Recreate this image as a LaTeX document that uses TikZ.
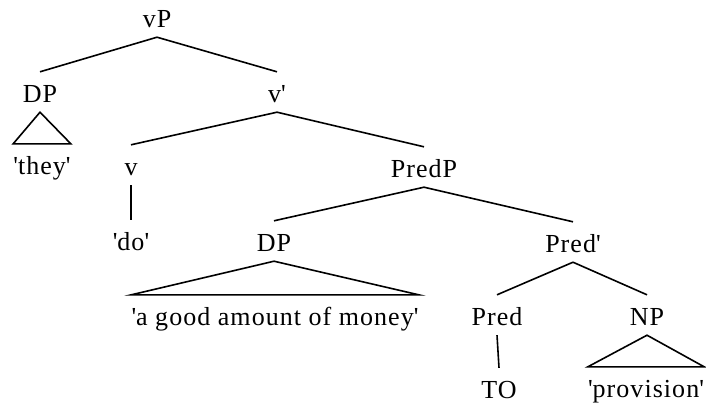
\documentclass[tikz,border=0pt]{standalone}
\usepackage{fontspec}
\setmainfont{Liberation Serif}[LetterSpace=4]
\newcommand{\q}{\textquotesingle}
\begin{document}
\begin{tikzpicture}
[x=1pt,y=-1pt,
  nodedecorate/.style={anchor=base,inner sep=0pt,text height=30pt,text depth=10pt,font=\fontsize{26}{31}\selectfont},%
  linedecorate/.style={-,line width=1.6pt}]
\useasboundingbox (0,0) rectangle (706,407);
% nodes or vertices
\node (0) at (157,27) [nodedecorate] {vP};
\node (1) at (40,102) [nodedecorate] {DP};
\node (2) at (277,102) [nodedecorate] {v\q};
\node (3) at (42,174) [nodedecorate] {\q they\q};
\node (4) at (131,175) [nodedecorate] {v};
\node (5) at (424,177) [nodedecorate] {PredP};
\node (6) at (131,250) [nodedecorate] {\q do\q};
\node (7) at (274,251) [nodedecorate] {DP};
\node (8) at (573,252) [nodedecorate] {Pred\q};
\node (9) at (275,325) [nodedecorate] {\q a good amount of money\q};
\node (10) at (497,325) [nodedecorate] {Pred};
\node (11) at (647,325) [nodedecorate] {NP};
\node (12) at (499,398) [nodedecorate] {TO};
\node (13) at (646,397) [nodedecorate] {\q provision\q};
% edges or lines
\path
(0.south) edge[linedecorate] (1.north)
(0.south) edge[linedecorate] (2.north)
(2.south) edge[linedecorate] (4.north)
(2.south) edge[linedecorate] (5.north)
(4.south) edge[linedecorate] (6.north)
(5.south) edge[linedecorate] (7.north)
(5.south) edge[linedecorate] (8.north)
(8.south) edge[linedecorate] (10.north)
(8.south) edge[linedecorate] (11.north)
(10.south) edge[linedecorate] (12.north);
% triangles
\draw[linedecorate] (1.south) -- (3.north west) -- (3.north east) -- cycle;
\draw[linedecorate] (7.south) -- (9.north west) -- (9.north east) -- cycle;
\draw[linedecorate] (11.south) -- (13.north west) -- (13.north east) -- cycle;
\end{tikzpicture}
\end{document}
